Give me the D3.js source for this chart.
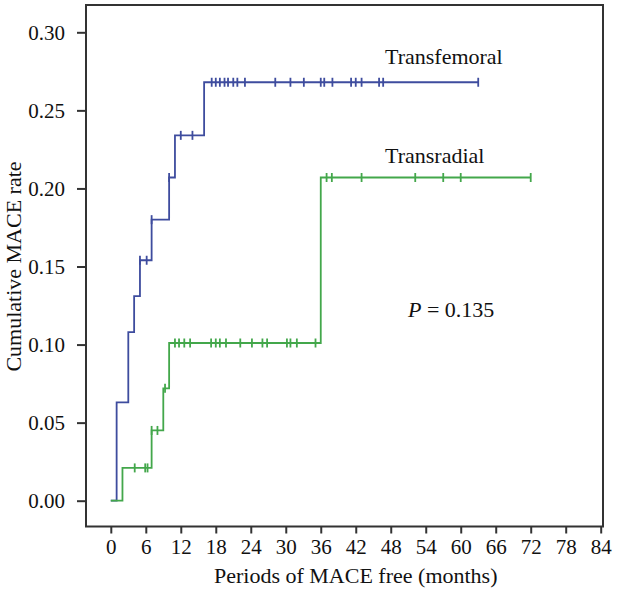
<!DOCTYPE html>
<html>
<head>
<meta charset="utf-8">
<script src="https://cdn.jsdelivr.net/npm/d3@7"></script>
<style>
  html, body { margin: 0; padding: 0; background: #fff; }
  svg { display: block; }
  text { font-family: "Liberation Serif", "Times New Roman", serif; fill: #111; }
</style>
</head>
<body>
<svg id="chart" width="618" height="595"></svg>
<script>
// ---- data ----
const xTicks = [0, 6, 12, 18, 24, 30, 36, 42, 48, 54, 60, 66, 72, 78, 84];
const yTicks = [0.00, 0.05, 0.10, 0.15, 0.20, 0.25, 0.30];

// Transfemoral: event times and cumulative rates (step function)
const femoralTimes = [0, 1, 3, 4, 5, 7, 10, 11, 16, 63];
const femoralRates = [0, 0.063, 0.108, 0.131, 0.154, 0.180, 0.207, 0.234, 0.268, 0.268];
const femoralCensored = [5.0, 6.15, 7.0, 10.0, 12.0, 14.0, 17.3, 18.0, 18.7, 19.5, 20.1, 21.0, 21.7, 23.0,
  28.2, 30.8, 33.1, 36.0, 36.6, 38.0, 41.2, 42.0, 43.0, 46.0, 46.7, 63.0];

// Transradial
const radialTimes = [0, 2, 7, 9, 10, 36, 72];
const radialRates = [0, 0.021, 0.045, 0.072, 0.101, 0.207, 0.207];
const radialCensored = [4.1, 5.9, 6.3, 7.0, 8.0, 9.3, 11.0, 11.7, 12.6, 13.6, 17.2, 18.0, 18.7, 19.75,
  22.2, 24.2, 26.0, 26.8, 30.2, 30.8, 31.9, 35.1, 37.0, 37.9, 43.0, 52.2, 57.0, 60.0, 72.0];

const seriesNames = ["Transfemoral", "Transradial"];
const pValueText = "0.135";

// ---- drawing ----
const svg = d3.select("#chart");
const x = d3.scaleLinear().domain([0, 84]).range([110.8, 600.7]);
const y = d3.scaleLinear().domain([0, 0.30]).range([500.7, 32.3]);

const box = { left: 86, top: 5, right: 603, bottom: 526.5 };
const axisColor = "#333";
const blue = "#3e4c9e";
const green = "#43a74b";

// frame
svg.append("rect")
  .attr("x", box.left).attr("y", box.top)
  .attr("width", box.right - box.left).attr("height", box.bottom - box.top)
  .attr("fill", "none").attr("stroke", axisColor).attr("stroke-width", 2);

// y axis
const yAxis = svg.append("g")
  .attr("transform", `translate(${box.left},0)`)
  .call(d3.axisLeft(y).tickValues(yTicks).tickSize(9).tickPadding(12).tickFormat(d3.format(".2f")));
yAxis.select(".domain").remove();
yAxis.selectAll(".tick line").attr("stroke", axisColor).attr("stroke-width", 2);
yAxis.selectAll(".tick text").attr("font-size", 21).attr("font-family", "Liberation Serif").attr("fill", "#111");

// x axis
const xAxis = svg.append("g")
  .attr("transform", `translate(0,${box.bottom})`)
  .call(d3.axisBottom(x).tickValues(xTicks).tickSize(7).tickPadding(6));
xAxis.select(".domain").remove();
xAxis.selectAll(".tick line").attr("stroke", axisColor).attr("stroke-width", 2);
xAxis.selectAll(".tick text").attr("font-size", 21).attr("font-family", "Liberation Serif").attr("fill", "#111");

// axis titles
svg.append("text")
  .attr("x", (x(0) + x(84)) / 2 + 0).attr("y", 583)
  .attr("text-anchor", "middle").attr("font-size", 22)
  .text("Periods of MACE free (months)");

svg.append("text")
  .attr("transform", `translate(21,${y(0.15)}) rotate(-90)`)
  .attr("text-anchor", "middle").attr("font-size", 22)
  .text("Cumulative MACE rate");

// step curves
function stepAt(times, rates, t) {
  let v = 0;
  for (let i = 0; i < times.length; i++) if (times[i] <= t) v = rates[i];
  return v;
}
const line = d3.line().x(d => x(d[0])).y(d => y(d[1])).curve(d3.curveStepAfter);

function drawSeries(times, rates, censored, color) {
  const pts = times.map((t, i) => [t, rates[i]]);
  svg.append("path").datum(pts)
    .attr("d", line).attr("fill", "none")
    .attr("stroke", color).attr("stroke-width", 1.8);
  svg.append("g").selectAll("line").data(censored).join("line")
    .attr("x1", d => x(d)).attr("x2", d => x(d))
    .attr("y1", d => y(stepAt(times, rates, d)) - 4.5)
    .attr("y2", d => y(stepAt(times, rates, d)) + 4.5)
    .attr("stroke", color).attr("stroke-width", 1.8);
}
drawSeries(femoralTimes, femoralRates, femoralCensored, blue);
drawSeries(radialTimes, radialRates, radialCensored, green);

// labels
svg.append("text").attr("x", 385).attr("y", 64).attr("font-size", 22).text(seriesNames[0]);
svg.append("text").attr("x", 385).attr("y", 163).attr("font-size", 22).text(seriesNames[1]);

const pt = svg.append("text").attr("x", 408).attr("y", 317).attr("font-size", 22);
pt.append("tspan").attr("font-style", "italic").text("P");
pt.append("tspan").text(" = " + pValueText);
</script>
</body>
</html>
